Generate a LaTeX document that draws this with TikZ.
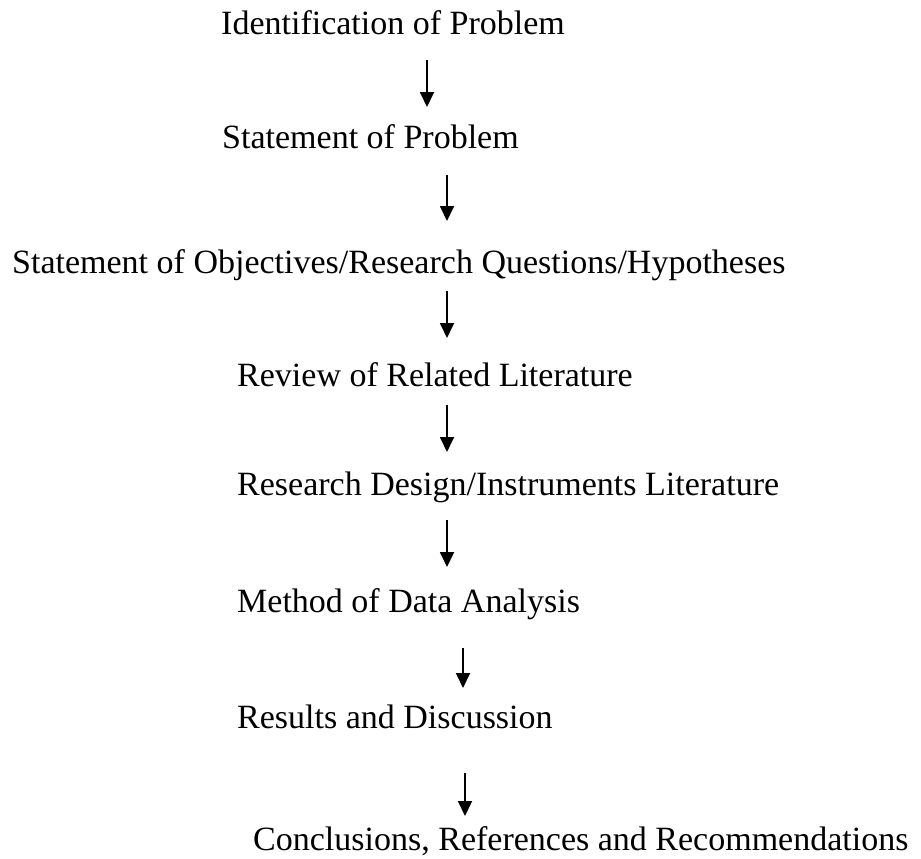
\documentclass[tikz,border=0pt]{standalone}
\usepackage{fontspec}
\setmainfont{Liberation Serif}
\usetikzlibrary{arrows.meta}
\begin{document}
\begin{tikzpicture}[x=1pt,y=-1pt,
  lbl/.style={anchor=base west,inner sep=0pt,font=\fontsize{34}{41}\selectfont},
  flow/.style={line width=1.8pt,-{Triangle[width=14pt,length=15pt]}}]
\useasboundingbox (0,0) rectangle (921,859);
\node[lbl] (n1) at (221,35) {Identification of Problem};
\node[lbl] (n2) at (222,148) {Statement of Problem};
\node[lbl] (n3) at (12,273) {Statement of Objectives/Research Questions/Hypotheses};
\node[lbl] (n4) at (237,386) {Review of Related Literature};
\node[lbl] (n5) at (237,495) {Research Design/Instruments Literature};
\node[lbl] (n6) at (237,612) {Method of Data Analysis};
\node[lbl] (n7) at (237,728) {Results and Discussion};
\node[lbl] (n8) at (253,850) {Conclusions, References and Recommendations};
\coordinate (a1s) at (427,60);  \coordinate (a1e) at (427,107);
\coordinate (a2s) at (447,175); \coordinate (a2e) at (447,221);
\coordinate (a3s) at (447,291); \coordinate (a3e) at (447,338);
\coordinate (a4s) at (447,405); \coordinate (a4e) at (447,452);
\coordinate (a5s) at (447,520); \coordinate (a5e) at (447,567);
\coordinate (a6s) at (463,648); \coordinate (a6e) at (463,688);
\coordinate (a7s) at (465,773); \coordinate (a7e) at (465,816);
\draw[flow] (a1s) -- (a1e);
\draw[flow] (a2s) -- (a2e);
\draw[flow] (a3s) -- (a3e);
\draw[flow] (a4s) -- (a4e);
\draw[flow] (a5s) -- (a5e);
\draw[flow] (a6s) -- (a6e);
\draw[flow] (a7s) -- (a7e);
\end{tikzpicture}
\end{document}
